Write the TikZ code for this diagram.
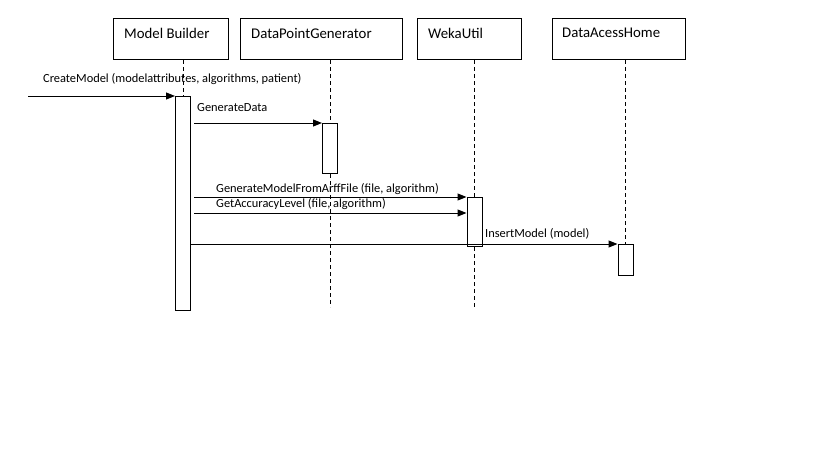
\documentclass[tikz,border=0pt]{standalone}
\usepackage{fontspec}
\setmainfont{Carlito}
\usetikzlibrary{positioning}
\usetikzlibrary{arrows.meta}
\tikzset{>={Triangle[width=7pt,length=9pt]}}

\begin{document}
\begin{tikzpicture}[x=1pt, y=-1pt, object/.style={draw=black, line width=1pt, inner sep=0pt, minimum height=41pt, anchor=north west}, objtext/.style={font=\fontsize{14.8}{16}\selectfont, inner sep=1pt, anchor=west}, activation/.style={draw=black, line width=1pt, fill=white, inner sep=0pt, minimum width=15pt, anchor=north}, msg/.style={->, line width=1pt}, lifeline/.style={line width=0.8pt, dash pattern=on 4pt off 3pt}, msgtext/.style={font=\fontsize{12.4}{14}\selectfont, inner sep=1pt, anchor=west}]
    
    \useasboundingbox (0,0) rectangle (819,460);
    
    %Objects
    \node[object, minimum width=115pt](mb) at (113,18){};
    \node[object, minimum width=162pt](dpg) at (240,18){};
    \node[object, minimum width=104pt](wu) at (417,18){};
    \node[object, minimum width=133pt](dah) at (552,18){};
    \node[objtext](mbtext) at ([xshift=10pt,yshift=-15pt]mb.north west){Model Builder};
    \node[objtext](dpgtext) at ([xshift=10pt,yshift=-15pt]dpg.north west){DataPointGenerator};
    \node[objtext](wutext) at ([xshift=10pt,yshift=-15pt]wu.north west){WekaUtil};
    \node[objtext](dahtext) at ([xshift=9pt,yshift=-15pt]dah.north west){DataAcessHome};
    
    %Activations
    \node[activation, minimum height=214pt](mbact) at (183,96){};
    \node[activation, minimum height=50pt](dpgact) at (330,123){};
    \node[activation, minimum height=49pt](wuact) at (474.5,197){};
    \node[activation, minimum height=31pt](dahact) at (625.5,244){};
    \coordinate (dpgend) at (330,307);
    \coordinate (wuend) at (474.5,309);
    \coordinate (caller) at (28,96);
    \coordinate (mbout) at ([xshift=3pt]mbact.east);
    \coordinate (wuin) at ([yshift=-16pt]wuact.north west);
    
    %Lifelines
    \draw[lifeline] (mbact |- mb.south) -- (mbact.north);
    \draw[lifeline] (dpgact |- dpg.south) -- (dpgact.north);
    \draw[lifeline] (dpgact.south) -- (dpgend);
    \draw[lifeline] (wuact |- wu.south) -- (wuact.north);
    \draw[lifeline] (wuact.south) -- (wuend);
    \draw[lifeline] (dahact |- dah.south) -- (dahact.north);
    
    %Messages
    \draw[msg] (caller) -- (mbact.north west);
    \draw[msg] (mbout |- dpgact.north) -- (dpgact.north west);
    \draw[msg] (mbout |- wuact.north) -- (wuact.north west);
    \draw[msg] (mbout |- wuin) -- (wuin);
    \draw[msg] (mbact.east |- dahact.north) -- (dahact.north west);
    
    %Labels
    \node[msgtext](createlbl) at (42,79){CreateModel (modelattributes, algorithms, patient)};
    \node[msgtext](gendatalbl) at (196,108){GenerateData};
    \node[msgtext](genmodellbl) at (215,189){GenerateModelFromArffFile (file, algorithm)};
    \node[msgtext](accuracylbl) at (215,204){GetAccuracyLevel (file, algorithm)};
    \node[msgtext](insertlbl) at (484,234){InsertModel (model)};
    
\end{tikzpicture}
\end{document}
